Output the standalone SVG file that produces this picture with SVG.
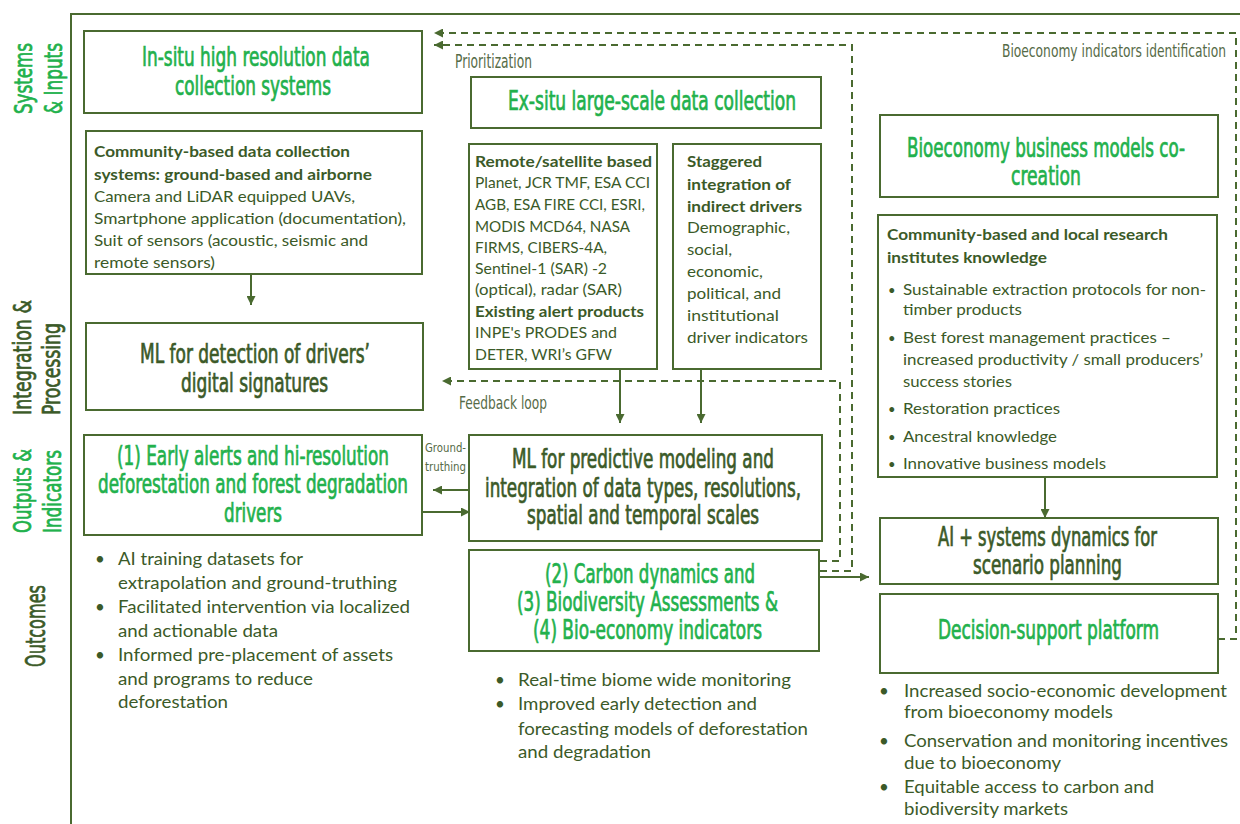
<svg xmlns="http://www.w3.org/2000/svg" width="1240" height="824" viewBox="0 0 1240 824">
<style>
.bg{fill:#ffffff}
.box{fill:#ffffff;stroke:#4a6a30;stroke-width:2}
.frame{stroke:#4a6a30;stroke-width:2;fill:none}
.hd{font-family:"Liberation Sans Narrow","DejaVu Sans Condensed","Roboto Condensed","Liberation Sans",sans-serif;font-size:26px;text-anchor:middle;stroke-width:0.7px}
.g{fill:#22b14c;stroke:#22b14c}
.d{fill:#3b5a28;stroke:#3b5a28}
.side{font-family:"Liberation Sans Narrow","DejaVu Sans Condensed","Roboto Condensed","Liberation Sans",sans-serif;font-size:24px;text-anchor:middle;stroke-width:0.7px}
.b{font-family:Lato,"Open Sans","Liberation Sans",sans-serif;font-size:16px;fill:#3b5a28}
.b17{font-family:Lato,"Open Sans","Liberation Sans",sans-serif;font-size:17px;fill:#3b5a28}
.bold{font-weight:bold}
.lbl{font-family:"Liberation Sans Narrow","DejaVu Sans Condensed","Roboto Condensed","Liberation Sans",sans-serif;fill:#566b47}
.con{stroke:#4a6a30;stroke-width:2;fill:none}
.dash{stroke:#4a6a30;stroke-width:2;fill:none;stroke-dasharray:7 5}
</style>
<defs>
<marker id="ah" viewBox="0 0 10 10" refX="10" refY="5" markerWidth="10" markerHeight="9" markerUnits="userSpaceOnUse" orient="auto"><path d="M0,0 L10,5 L0,10 z" fill="#4a6a30"/></marker>
</defs>
<rect class="bg" x="0" y="0" width="1240" height="824"/>

<g id="frame">
<path class="frame" d="M71,824 V14 H1240"/>
</g>

<g id="lane-labels">
<text class="side g" transform="translate(32,78.5) rotate(-90)" textLength="71" lengthAdjust="spacingAndGlyphs">Systems</text>
<text class="side g" transform="translate(62,78.5) rotate(-90)" textLength="71" lengthAdjust="spacingAndGlyphs">&amp; Inputs</text>
<text class="side d" transform="translate(31,357.5) rotate(-90)" textLength="115" lengthAdjust="spacingAndGlyphs">Integration &amp;</text>
<text class="side d" transform="translate(60,369) rotate(-90)" textLength="92" lengthAdjust="spacingAndGlyphs">Processing</text>
<text class="side g" transform="translate(31,491) rotate(-90)" textLength="84" lengthAdjust="spacingAndGlyphs">Outputs &amp;</text>
<text class="side g" transform="translate(61,491.5) rotate(-90)" textLength="83" lengthAdjust="spacingAndGlyphs">Indicators</text>
<text class="side d" style="font-size:26px" transform="translate(45,626) rotate(-90)" textLength="82" lengthAdjust="spacingAndGlyphs">Outcomes</text>
</g>

<g id="connectors">
<path class="dash" d="M1218,639 H1236 V33 H434" marker-end="url(#ah)"/>
<path class="dash" d="M820,571 H852 V45 H434" marker-end="url(#ah)"/>
<path class="dash" d="M820,561 H840 V381 H442" marker-end="url(#ah)"/>
<path class="con" d="M251,274 V305" marker-end="url(#ah)"/>
<path class="con" d="M620,369 V423" marker-end="url(#ah)"/>
<path class="con" d="M701,369 V423" marker-end="url(#ah)"/>
<path class="con" d="M470,490 H433" marker-end="url(#ah)"/>
<path class="con" d="M422,512 H470" marker-end="url(#ah)"/>
<path class="con" d="M1045,477 V518" marker-end="url(#ah)"/>
<path class="con" d="M820,577 H869" marker-end="url(#ah)"/>
<text class="lbl" x="455" y="68" style="font-size:19px" textLength="77" lengthAdjust="spacingAndGlyphs">Prioritization</text>
<text class="lbl" x="1226" y="57" style="font-size:18px;text-anchor:end" textLength="224" lengthAdjust="spacingAndGlyphs">Bioeconomy indicators identification</text>
<text class="lbl" x="459" y="409" style="font-size:17px" textLength="88" lengthAdjust="spacingAndGlyphs">Feedback loop</text>
<text class="lbl" x="466" y="452" style="font-size:12px;text-anchor:end" textLength="41" lengthAdjust="spacingAndGlyphs">Ground-</text>
<text class="lbl" x="466" y="471" style="font-size:12px;text-anchor:end" textLength="41" lengthAdjust="spacingAndGlyphs">truthing</text>
</g>

<g id="insitu">
<rect class="box" x="84" y="31" width="338" height="82"/>
<text class="hd g" x="256" y="66" textLength="228" lengthAdjust="spacingAndGlyphs">In-situ high resolution data</text>
<text class="hd g" x="253" y="95" textLength="156" lengthAdjust="spacingAndGlyphs">collection systems</text>
</g>

<g id="community-data">
<rect class="box" x="86" y="131" width="336" height="143"/>
<text class="b bold" x="94" y="157" textLength="256" lengthAdjust="spacingAndGlyphs">Community-based data collection</text>
<text class="b bold" x="94" y="180" textLength="278" lengthAdjust="spacingAndGlyphs">systems: ground-based and airborne</text>
<text class="b" x="94" y="202" textLength="261" lengthAdjust="spacingAndGlyphs">Camera and LiDAR equipped UAVs,</text>
<text class="b" x="94" y="224" textLength="312" lengthAdjust="spacingAndGlyphs">Smartphone application (documentation),</text>
<text class="b" x="94" y="246" textLength="274" lengthAdjust="spacingAndGlyphs">Suit of sensors (acoustic, seismic and</text>
<text class="b" x="94" y="268" textLength="121" lengthAdjust="spacingAndGlyphs">remote sensors)</text>
</g>

<g id="ml-detection">
<rect class="box" x="86" y="323" width="337" height="87"/>
<text class="hd d" x="255" y="363" textLength="230" lengthAdjust="spacingAndGlyphs">ML for detection of drivers’</text>
<text class="hd d" x="254.5" y="392" textLength="147" lengthAdjust="spacingAndGlyphs">digital signatures</text>
</g>

<g id="early-alerts">
<rect class="box" x="84" y="435" width="338" height="100"/>
<text class="hd g" x="253" y="465" textLength="272" lengthAdjust="spacingAndGlyphs">(1) Early alerts and hi-resolution</text>
<text class="hd g" x="253" y="493" textLength="310" lengthAdjust="spacingAndGlyphs">deforestation and forest degradation</text>
<text class="hd g" x="253" y="522" textLength="58" lengthAdjust="spacingAndGlyphs">drivers</text>
</g>

<g id="early-alerts-outcomes">
<text class="b17" x="95" y="565">•</text>
<text class="b17" x="118" y="565" textLength="185" lengthAdjust="spacingAndGlyphs">AI training datasets for</text>
<text class="b17" x="118" y="589" textLength="279" lengthAdjust="spacingAndGlyphs">extrapolation and ground-truthing</text>
<text class="b17" x="95" y="613">•</text>
<text class="b17" x="118" y="613" textLength="292" lengthAdjust="spacingAndGlyphs">Facilitated intervention via localized</text>
<text class="b17" x="118" y="637" textLength="160" lengthAdjust="spacingAndGlyphs">and actionable data</text>
<text class="b17" x="95" y="661">•</text>
<text class="b17" x="118" y="661" textLength="275" lengthAdjust="spacingAndGlyphs">Informed pre-placement of assets</text>
<text class="b17" x="118" y="685" textLength="195" lengthAdjust="spacingAndGlyphs">and programs to reduce</text>
<text class="b17" x="118" y="708" textLength="110" lengthAdjust="spacingAndGlyphs">deforestation</text>
</g>

<g id="exsitu">
<rect class="box" x="471" y="77" width="350" height="51"/>
<text class="hd g" x="652" y="110" textLength="288" lengthAdjust="spacingAndGlyphs">Ex-situ large-scale data collection</text>
</g>

<g id="remote">
<rect class="box" x="469" y="144" width="188" height="225"/>
<text class="b bold" x="475" y="167" textLength="177" lengthAdjust="spacingAndGlyphs">Remote/satellite based</text>
<text class="b" x="475" y="188" textLength="175" lengthAdjust="spacingAndGlyphs">Planet, JCR TMF, ESA CCI</text>
<text class="b" x="475" y="210" textLength="170" lengthAdjust="spacingAndGlyphs">AGB, ESA FIRE CCI, ESRI,</text>
<text class="b" x="475" y="232" textLength="155" lengthAdjust="spacingAndGlyphs">MODIS MCD64, NASA</text>
<text class="b" x="475" y="253" textLength="132" lengthAdjust="spacingAndGlyphs">FIRMS, CIBERS-4A,</text>
<text class="b" x="475" y="274" textLength="132" lengthAdjust="spacingAndGlyphs">Sentinel-1 (SAR) -2</text>
<text class="b" x="475" y="295" textLength="147" lengthAdjust="spacingAndGlyphs">(optical), radar (SAR)</text>
<text class="b bold" x="475" y="317" textLength="169" lengthAdjust="spacingAndGlyphs">Existing alert products</text>
<text class="b" x="475" y="338" textLength="142" lengthAdjust="spacingAndGlyphs">INPE's PRODES and</text>
<text class="b" x="475" y="360" textLength="137" lengthAdjust="spacingAndGlyphs">DETER, WRI’s GFW</text>
</g>

<g id="staggered">
<rect class="box" x="673" y="144" width="148" height="225"/>
<text class="b bold" x="687" y="167" textLength="75" lengthAdjust="spacingAndGlyphs">Staggered</text>
<text class="b bold" x="687" y="190" textLength="104" lengthAdjust="spacingAndGlyphs">integration of</text>
<text class="b bold" x="687" y="212" textLength="115" lengthAdjust="spacingAndGlyphs">indirect drivers</text>
<text class="b" x="687" y="233" textLength="103" lengthAdjust="spacingAndGlyphs">Demographic,</text>
<text class="b" x="687" y="255" textLength="45" lengthAdjust="spacingAndGlyphs">social,</text>
<text class="b" x="687" y="277" textLength="76" lengthAdjust="spacingAndGlyphs">economic,</text>
<text class="b" x="687" y="299" textLength="94" lengthAdjust="spacingAndGlyphs">political, and</text>
<text class="b" x="687" y="321" textLength="92" lengthAdjust="spacingAndGlyphs">institutional</text>
<text class="b" x="687" y="343" textLength="121" lengthAdjust="spacingAndGlyphs">driver indicators</text>
</g>

<g id="ml-predictive">
<rect class="box" x="469" y="435" width="353" height="106"/>
<text class="hd d" x="643" y="468" textLength="262" lengthAdjust="spacingAndGlyphs">ML for predictive modeling and</text>
<text class="hd d" x="643" y="497" textLength="316" lengthAdjust="spacingAndGlyphs">integration of data types, resolutions,</text>
<text class="hd d" x="643" y="524" textLength="232" lengthAdjust="spacingAndGlyphs">spatial and temporal scales</text>
</g>

<g id="carbon">
<rect class="box" x="469" y="550" width="350" height="101"/>
<text class="hd g" x="650" y="583" textLength="210" lengthAdjust="spacingAndGlyphs">(2) Carbon dynamics and</text>
<text class="hd g" x="647.5" y="611" textLength="261" lengthAdjust="spacingAndGlyphs">(3) Biodiversity Assessments &amp;</text>
<text class="hd g" x="647.5" y="639" textLength="229" lengthAdjust="spacingAndGlyphs">(4) Bio-economy indicators</text>
</g>

<g id="carbon-outcomes">
<text class="b17" x="495" y="686">•</text>
<text class="b17" x="518" y="686" textLength="273" lengthAdjust="spacingAndGlyphs">Real-time biome wide monitoring</text>
<text class="b17" x="495" y="710">•</text>
<text class="b17" x="518" y="710" textLength="239" lengthAdjust="spacingAndGlyphs">Improved early detection and</text>
<text class="b17" x="518" y="735" textLength="290" lengthAdjust="spacingAndGlyphs">forecasting models of deforestation</text>
<text class="b17" x="518" y="758" textLength="133" lengthAdjust="spacingAndGlyphs">and degradation</text>
</g>

<g id="bioeconomy">
<rect class="box" x="880" y="115" width="338" height="82"/>
<text class="hd g" x="1046" y="157" textLength="278" lengthAdjust="spacingAndGlyphs">Bioeconomy business models co-</text>
<text class="hd g" x="1046" y="185" textLength="70" lengthAdjust="spacingAndGlyphs">creation</text>
</g>

<g id="research-knowledge">
<rect class="box" x="878" y="215" width="339" height="262"/>
<text class="b bold" x="887" y="240" textLength="281" lengthAdjust="spacingAndGlyphs">Community-based and local research</text>
<text class="b bold" x="887" y="263" textLength="160" lengthAdjust="spacingAndGlyphs">institutes knowledge</text>
<text class="b" x="888" y="295" style="font-size:13px">•</text>
<text class="b" x="903" y="295" textLength="303" lengthAdjust="spacingAndGlyphs">Sustainable extraction protocols for non-</text>
<text class="b" x="903" y="315" textLength="119" lengthAdjust="spacingAndGlyphs">timber products</text>
<text class="b" x="888" y="343" style="font-size:13px">•</text>
<text class="b" x="903" y="343" textLength="268" lengthAdjust="spacingAndGlyphs">Best forest management practices –</text>
<text class="b" x="903" y="365" textLength="300" lengthAdjust="spacingAndGlyphs">increased productivity / small producers’</text>
<text class="b" x="903" y="387" textLength="109" lengthAdjust="spacingAndGlyphs">success stories</text>
<text class="b" x="888" y="414" style="font-size:13px">•</text>
<text class="b" x="903" y="414" textLength="157" lengthAdjust="spacingAndGlyphs">Restoration practices</text>
<text class="b" x="888" y="442" style="font-size:13px">•</text>
<text class="b" x="903" y="442" textLength="154" lengthAdjust="spacingAndGlyphs">Ancestral knowledge</text>
<text class="b" x="888" y="469" style="font-size:13px">•</text>
<text class="b" x="903" y="469" textLength="203" lengthAdjust="spacingAndGlyphs">Innovative business models</text>
</g>

<g id="ai-systems">
<rect class="box" x="880" y="518" width="338" height="66"/>
<text class="hd d" x="1047.5" y="546" textLength="219" lengthAdjust="spacingAndGlyphs">AI + systems dynamics for</text>
<text class="hd d" x="1047.5" y="574" textLength="149" lengthAdjust="spacingAndGlyphs">scenario planning</text>
</g>

<g id="decision-support">
<rect class="box" x="880" y="594" width="338" height="79"/>
<text class="hd g" x="1048.5" y="639" textLength="221" lengthAdjust="spacingAndGlyphs">Decision-support platform</text>
</g>

<g id="decision-outcomes">
<text class="b17" x="879" y="697">•</text>
<text class="b17" x="904" y="697" textLength="323" lengthAdjust="spacingAndGlyphs">Increased socio-economic development</text>
<text class="b17" x="904" y="718" textLength="209" lengthAdjust="spacingAndGlyphs">from bioeconomy models</text>
<text class="b17" x="879" y="747">•</text>
<text class="b17" x="904" y="747" textLength="324" lengthAdjust="spacingAndGlyphs">Conservation and monitoring incentives</text>
<text class="b17" x="904" y="769" textLength="157" lengthAdjust="spacingAndGlyphs">due to bioeconomy</text>
<text class="b17" x="879" y="793">•</text>
<text class="b17" x="904" y="793" textLength="250" lengthAdjust="spacingAndGlyphs">Equitable access to carbon and</text>
<text class="b17" x="904" y="815" textLength="164" lengthAdjust="spacingAndGlyphs">biodiversity markets</text>
</g>
</svg>
